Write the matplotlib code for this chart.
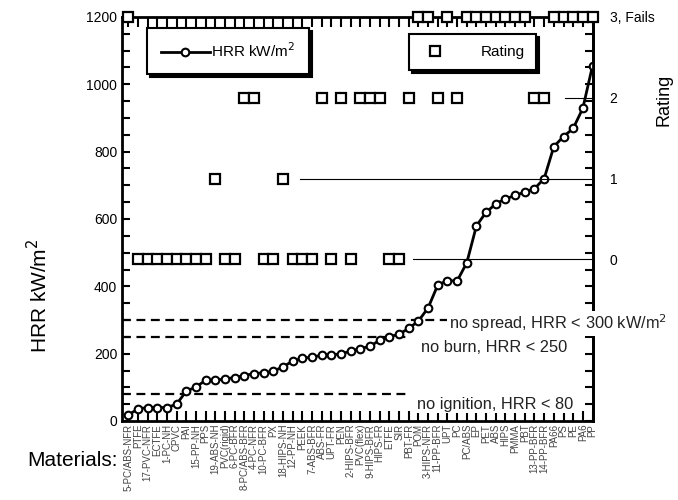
import matplotlib.pyplot as plt
from matplotlib.ticker import MultipleLocator, FixedLocator

plt.rcParams['font.family'] = ['Liberation Sans', 'DejaVu Sans']

# materials sorted by HRR
materials = [
    "5-PC/ABS-NFR", "PTFE", "17-PVC-NFR", "ECTFE", "1-PC-NH", "CPVC", "PAI",
    "15-PP-NH", "PPS", "19-ABS-NH", "PVC(rigid)", "6-PC-BFR", "8-PC/ABS-BFR",
    "4-PC-NFR", "10-PC-BFR", "PX", "18-HIPS-NH", "12-PP-NH", "PEEK",
    "7-ABS-BFR", "ABS-FR", "UPT-FR", "PEN", "2-HIPS-BFR", "PVC(flex)",
    "9-HIPS-BFR", "HIPS-FR", "ETFE", "SIR", "PBT-FR", "POM", "3-HIPS-NFR",
    "11-PP-BFR", "UPT", "PC", "PC/ABS", "EP", "PET", "ABS", "HIPS", "PMMA",
    "PBT", "13-PP-BFR", "14-PP-BFR", "PA66", "PS", "PE", "PA6", "PP",
]
hrr = [
    18, 36, 40, 40, 40, 50, 89, 101, 121, 121, 125, 129, 135, 141, 143, 148,
    161, 178, 186, 190, 195, 197, 199, 208, 215, 222, 240, 250, 258, 275, 297,
    336, 404, 417, 416, 470, 580, 620, 645, 660, 670, 680, 690, 720, 815, 845,
    869, 929, 1055,
]
rating = [
    3, 0, 0, 0, 0, 0, 0, 0, 0, 1, 0, 0, 2, 2, 0, 0, 1, 0, 0, 0, 2, 0, 2, 0,
    2, 2, 2, 0, 0, 2, 3, 3, 2, 3, 2, 3, 3, 3, 3, 3, 3, 3, 2, 2, 3, 3, 3, 3, 3,
]
limits = [300, 250, 80]
limit_text = ["no spread, HRR < 300 kW/m$^2$", "no burn, HRR < 250",
              "no ignition, HRR < 80"]
rating_ticks = [0, 1, 2, 3]
rating_labels = ["0", "1", "2", "3, Fails"]

x = list(range(1, len(materials) + 1))

fig = plt.figure(figsize=(6.78, 5), dpi=100)
ax = fig.add_axes([122 / 678, 1 - 421 / 500, 471 / 678, 404 / 500])
ax2 = ax.twinx()

# HRR curve
line, = ax.plot(x, hrr, color="black", lw=2, marker="o", ms=5.5,
                mfc="white", mec="black", mew=1.5, zorder=5)

ax.set_xlim(0.35, 49.05)
ax.set_ylim(0, 1200)
ax.set_yticks(range(0, 1201, 200))
ax.yaxis.set_minor_locator(MultipleLocator(50))
ax.set_xticks(x)
ax.set_xticklabels(materials, rotation=90, fontsize=7, color="#444444")
ax.tick_params(axis="x", direction="in", length=7, width=1.5, top=True,
               pad=2)
ax.tick_params(axis="y", which="both", direction="in", length=6, width=1.5,
               labelsize=10, right=True)
ax.set_ylabel("HRR kW/m$^2$", fontsize=15)
ax.yaxis.set_label_coords(-0.15, 0.31)
for s in ax.spines.values():
    s.set_linewidth(2)

# limit lines
line_ends = [0.69, 0.612, 0.612]
for lim, xe in zip(limits, line_ends):
    ax.plot([0.0, xe], [lim, lim], transform=ax.get_yaxis_transform(),
            color="black", lw=1.6, ls=(0, (4, 2.5)), zorder=3)

# rating axis
ax2.set_ylim(-2, 3)
ax2.plot(x, rating, ls="none", marker="s", ms=7, mfc="white", mec="black",
         mew=1.6, clip_on=False, zorder=6)
ax2.yaxis.set_major_locator(FixedLocator(rating_ticks))
ax2.set_yticklabels(rating_labels, fontsize=10)
ax2.tick_params(axis="y", length=0, pad=12)
ax2.set_ylabel("Rating", fontsize=13)
ax2.yaxis.set_label_coords(1.132, 0.795)
for s in ax2.spines.values():
    s.set_visible(False)
ax2.spines["right"].set_visible(True)
ax2.spines["right"].set_linewidth(2)

rating_line_start = [0.617, 0.377, 0.94]
for r, xs in zip(rating_ticks[:3], rating_line_start):
    ax2.plot([xs, 1.0], [r, r], transform=ax2.get_yaxis_transform(),
             color="black", lw=0.8, zorder=1)

# limit labels, drawn on the twin so they cover the right spine
text_pos = [(0.695, 290), (0.635, 217), (0.627, 50)]
for (tx, ty), txt in zip(text_pos, limit_text):
    ax2.text(tx, ty, txt, transform=ax.get_yaxis_transform(), fontsize=11.8,
             color="#222222", va="center", ha="left", zorder=10,
             bbox=dict(facecolor="white", edgecolor="none", pad=1),
             clip_on=False)

# legends
leg1 = ax.legend([line], ["HRR kW/m$^2$"], loc="upper left",
                 bbox_to_anchor=(0.053, 0.973), handlelength=3.2,
                 fontsize=11, frameon=True, fancybox=False,
                 shadow={"color": "black", "alpha": 1}, borderpad=0.9,
                 handletextpad=0.1, borderaxespad=0)
leg1.get_frame().set_edgecolor("black")
leg1.get_frame().set_linewidth(1.5)
sq, = ax2.plot([], [], ls="none", marker="s", ms=7, mfc="white",
               mec="black", mew=1.6)
leg2 = ax2.legend([sq], ["Rating"], loc="upper left",
                  bbox_to_anchor=(0.61, 0.957), fontsize=11,
                  frameon=True, fancybox=False,
                  shadow={"color": "black", "alpha": 1}, borderpad=0.7,
                  handletextpad=2.0, borderaxespad=0)
leg2.get_frame().set_edgecolor("black")
leg2.get_frame().set_linewidth(1.5)

fig.text(118 / 678, 1 - 461 / 500, "Materials:", fontsize=15, ha="right",
         va="center")

fig.savefig("out.png", dpi=100)
